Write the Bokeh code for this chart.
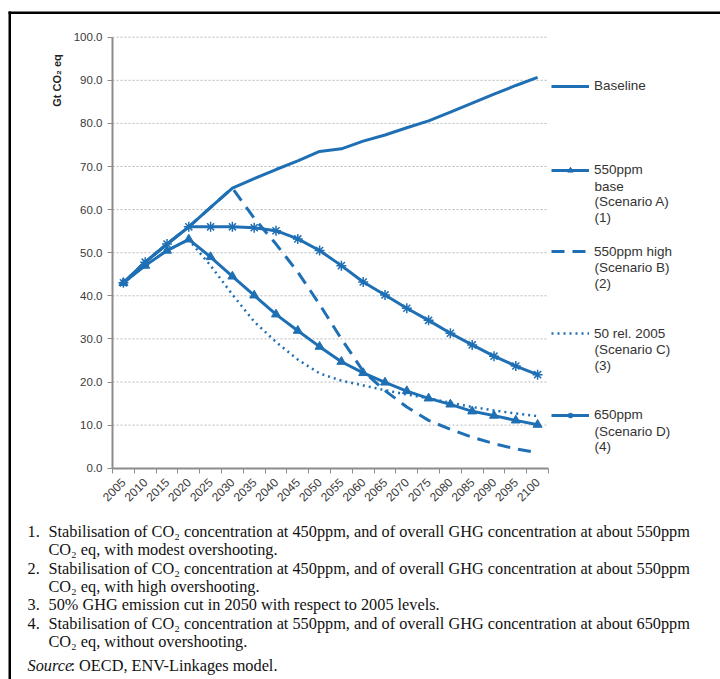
import math
from bokeh.plotting import figure
from bokeh.models import (FixedTicker, NumeralTickFormatter, Label, Legend,
                          LegendItem, Range1d, BoxAnnotation, LinearAxis)
from bokeh.embed import file_html
from bokeh.resources import INLINE

# ---------------- data ----------------
years = [2005, 2010, 2015, 2020, 2025, 2030, 2035, 2040, 2045, 2050,
         2055, 2060, 2065, 2070, 2075, 2080, 2085, 2090, 2095, 2100]
baseline = [43.0, 47.8, 52.0, 56.0, 60.5, 65.0, 67.2, 69.3, 71.3, 73.5,
            74.1, 75.9, 77.3, 79.0, 80.6, 82.6, 84.7, 86.8, 88.8, 90.7]
scen_a = [43.0, 47.0, 50.5, 53.1, 49.0, 44.5, 40.1, 35.7, 31.9, 28.2,
          24.7, 22.1, 19.9, 17.9, 16.2, 14.8, 13.2, 12.2, 11.1, 10.1]
scen_b = [43.0, 47.8, 52.0, 56.0, 60.5, 65.0, 58.0, 52.0, 45.5, 38.0,
          30.0, 22.5, 18.0, 14.2, 11.1, 9.0, 7.2, 5.7, 4.5, 3.6]
scen_c = [43.0, 47.0, 50.5, 53.0, 47.0, 40.3, 34.0, 29.3, 25.2, 22.0,
          20.3, 19.2, 18.1, 17.1, 16.2, 15.2, 14.2, 13.4, 12.7, 12.1]
scen_d = [43.0, 47.8, 52.0, 56.0, 56.0, 56.0, 55.8, 55.1, 53.2, 50.5,
          47.0, 43.2, 40.2, 37.1, 34.3, 31.3, 28.6, 26.0, 23.7, 21.7]
y_ticks = [0, 10, 20, 30, 40, 50, 60, 70, 80, 90, 100]

y_title = "Gt CO\u2082 eq"
legend_labels = [
    ["Baseline"],
    ["550ppm", "base", "(Scenario A)", "(1)"],
    ["550ppm high", "(Scenario B)", "(2)"],
    ["50 rel. 2005", "(Scenario C)", "(3)"],
    ["650ppm", "(Scenario D)", "(4)"],
]
notes = [
    ("1.", "Stabilisation of CO\u2082 concentration at 450ppm, and of overall GHG concentration at about 550ppm"),
    ("", "CO\u2082 eq, with modest overshooting."),
    ("2.", "Stabilisation of CO\u2082 concentration at 450ppm, and of overall GHG concentration at about 550ppm"),
    ("", "CO\u2082 eq, with high overshooting."),
    ("3.", "50% GHG emission cut in 2050 with respect to 2005 levels."),
    ("4.", "Stabilisation of CO\u2082 concentration at 550ppm, and of overall GHG concentration at about 650ppm"),
    ("", "CO\u2082 eq, without overshooting."),
]
source_label = "Source"
source_text = ": OECD, ENV-Linkages model."

# ---------------- layout (pixel geometry of the page) ----------------
W, H = 720, 679
PX_L, PX_R, PY_T, PY_B = 112, 548, 36.7, 467.7     # plot area on the page
XMIN, XMAX = years[0] - 2.5, years[-1] + 2.5
YMIN, YMAX = y_ticks[0], y_ticks[-1]
kx = (PX_R - PX_L) / (XMAX - XMIN)
ky = (PY_B - PY_T) / (YMAX - YMIN)

def dx(px):
    return XMIN + (px - PX_L) / kx

def dy(py):
    return YMIN + (PY_B - py) / ky

BLUE = "#1f6fb4"
AXIS_GRAY = "#8c8c8c"
SANS = "Liberation Sans"
SERIF = "Liberation Serif"
NOTE_SIZE = "16.3px"

p = figure(width=W, height=H, output_backend="svg", toolbar_location=None,
           x_range=Range1d(dx(0), dx(W)), y_range=Range1d(dy(H), dy(0)),
           x_axis_location=None, y_axis_location=None,
           min_border=0, min_border_left=0, min_border_right=0,
           min_border_top=0, min_border_bottom=0,
           outline_line_color=None, background_fill_color="white",
           border_fill_color="white")
p.grid.visible = False

# horizontal dotted gridlines across the plot area
p.segment(x0=XMIN, x1=XMAX, y0=y_ticks[1:], y1=y_ticks[1:],
          line_color="#b8b8b8", line_dash="2 2", line_width=1)

# axes drawn at fixed positions
yax = LinearAxis(fixed_location=XMIN, bounds=(YMIN, YMAX),
                 ticker=FixedTicker(ticks=y_ticks),
                 formatter=NumeralTickFormatter(format="0.0"))
yax.minor_tick_line_color = None
yax.axis_line_color = AXIS_GRAY
yax.axis_line_width = 2
yax.major_tick_line_color = AXIS_GRAY
yax.major_tick_out = 5
yax.major_tick_in = 0
yax.major_label_text_font = SANS
yax.major_label_text_font_size = "11.5px"
yax.major_label_text_color = "#3a3a3a"
yax.major_label_standoff = 5
p.add_layout(yax, "left")

xax = LinearAxis(fixed_location=YMIN, bounds=(XMIN, XMAX),
                 ticker=FixedTicker(ticks=years,
                                    minor_ticks=[y - 2.5 for y in years] + [XMAX]))
xax.major_tick_line_color = None
xax.minor_tick_line_color = AXIS_GRAY
xax.minor_tick_out = 5
xax.minor_tick_in = 0
xax.axis_line_color = AXIS_GRAY
xax.axis_line_width = 2
xax.major_label_orientation = math.pi / 4
xax.major_label_text_font = SANS
xax.major_label_text_font_size = "12px"
xax.major_label_text_color = "#3a3a3a"
xax.major_label_standoff = 6
p.add_layout(xax, "below")

# series
r_base = p.line(years, baseline, line_color=BLUE, line_width=3)
r_a = p.line(years, scen_a, line_color=BLUE, line_width=3)
m_a = p.scatter(years, scen_a, marker="triangle", size=9, fill_color=BLUE, line_color=BLUE)
r_b = p.line(years, scen_b, line_color=BLUE, line_width=3, line_dash="13 8")
r_c = p.line(years, scen_c, line_color=BLUE, line_width=2.5, line_dash="2 4")
r_d = p.line(years, scen_d, line_color=BLUE, line_width=3)
m_d = p.scatter(years, scen_d, marker="asterisk", size=10, line_color=BLUE, line_width=1.5)

# legend (one Legend per entry, placed beside the plot area)
leg_rend = [[r_base], [r_a, m_a], [r_b], [r_c], [r_d, m_d]]
leg_y = [86, 170, 251.5, 333.5, 415]
line_gap = 15.5
ITEM_H = 14
LEG_SIZE = "13.5px"
for rends, labels, ly in zip(leg_rend, legend_labels, leg_y):
    lg = Legend(items=[LegendItem(label=labels[0], renderers=rends)],
                location=(551, H - (ly + ITEM_H / 2)),
                glyph_width=38, glyph_height=ITEM_H, label_height=ITEM_H,
                label_standoff=5, padding=0, margin=0, spacing=0,
                background_fill_alpha=0, border_line_color=None,
                label_text_font=SANS, label_text_font_size=LEG_SIZE,
                label_text_color="#333333")
    p.add_layout(lg)
    for k, extra in enumerate(labels[1:], start=1):
        p.add_layout(Label(x=dx(594), y=dy(ly + k * line_gap),
                           text=extra, text_font=SANS,
                           text_font_size=LEG_SIZE, text_color="#333333",
                           text_baseline="middle", text_align="left"))

# y-axis title
p.add_layout(Label(x=dx(56), y=dy(80), text=y_title, angle=math.pi / 2,
                   text_font=SANS, text_font_size="11px", text_font_style="bold",
                   text_color="#222222", text_align="center",
                   text_baseline="middle"))

# footnotes
note_y = [531, 549, 568, 586, 604, 623, 641]
for (num, txt), ny in zip(notes, note_y):
    if num:
        p.add_layout(Label(x=dx(27), y=dy(ny), text=num, text_font=SERIF,
                           text_font_size=NOTE_SIZE, text_color="#111111",
                           text_baseline="middle"))
    p.add_layout(Label(x=dx(48), y=dy(ny), text=txt, text_font=SERIF,
                       text_font_size=NOTE_SIZE, text_color="#111111",
                       text_baseline="middle"))
p.add_layout(Label(x=dx(27), y=dy(665), text=source_label, text_font=SERIF,
                   text_font_size=NOTE_SIZE, text_font_style="italic",
                   text_color="#111111", text_baseline="middle"))
p.add_layout(Label(x=dx(70), y=dy(665), text=source_text, text_font=SERIF,
                   text_font_size=NOTE_SIZE, text_color="#111111",
                   text_baseline="middle"))

# page frame lines (top and left)
p.add_layout(BoxAnnotation(left=dx(8), right=dx(W), top=dy(11), bottom=dy(13.5),
                           fill_color="black", fill_alpha=1, line_color=None))
p.add_layout(BoxAnnotation(left=dx(8), right=dx(10.5), top=dy(11), bottom=dy(H),
                           fill_color="black", fill_alpha=1, line_color=None))

open("out.html", "w").write(file_html(p, INLINE))
